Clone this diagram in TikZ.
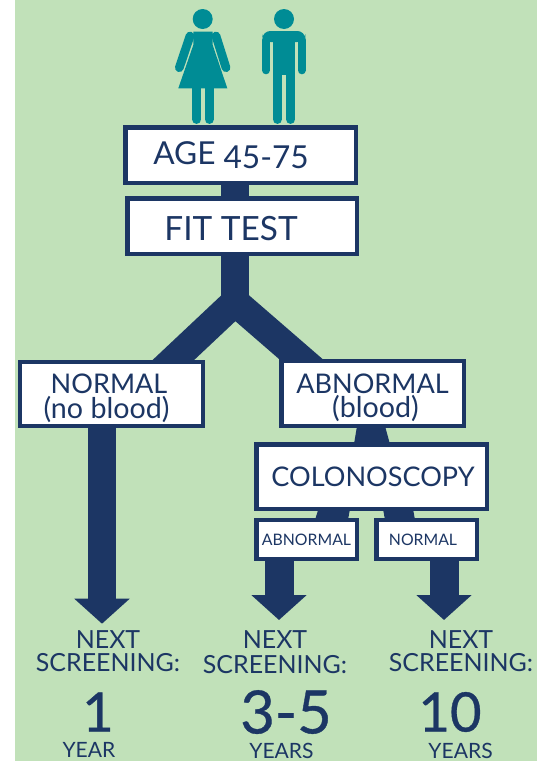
\documentclass[tikz,border=0pt]{standalone}
\usepackage{fontspec}
\setmainfont{Lato}
\newfontfamily\numberfont[FakeBold=0.6]{Lato}
\usetikzlibrary{arrows.meta,backgrounds,calc}
\definecolor{navy}{HTML}{1C3664}
\definecolor{meadow}{HTML}{C1E1B9}
\definecolor{person}{HTML}{008C95}
\newcommand{\fsize}[1]{\fontsize{#1}{#1}\selectfont}
\tikzset{
    boxnode/.style 2 args={draw=navy, fill=white, line width=0.09cm, text=navy, inner sep=0pt, outer sep=0pt,
        minimum width=#1*0.02cm, minimum height=#2*0.02cm, align=center},
    labelnode/.style={text=navy, inner sep=0pt, align=center},
    trunk/.style={draw=navy, line width=0.57cm, line join=miter},
    downarrow/.style={draw=navy, line width=0.58cm, -{Triangle[length=0.5cm,width=1.08cm]}},
    limb/.style={draw=person, line cap=round}
}
\begin{document}
\begin{tikzpicture}[x=0.02cm, y=-0.02cm]
    \useasboundingbox (0,0) rectangle (537,761);
    % ---- Woman ----
    \fill[person] (202.7,19) circle (10);
    \fill[person] (193.3,31.7) -- (212.7,31.7) -- (212.7,45) -- (227.3,88.3) -- (178.3,88.3) -- (193.3,45) -- cycle;
    \draw[limb, line width=0.175cm] (190,36) -- (179.3,67.7);
    \draw[limb, line width=0.175cm] (216,36) -- (226,67.7);
    \foreach \x in {196.7, 209.3} {
        \draw[limb, line width=0.186cm] (\x,85) -- (\x,119.3);
    }
    % ---- Man ----
    \fill[person] (284,19) circle (10);
    \fill[person, rounded corners=0.16cm] (262.3,42) -- (262.3,31) -- (305.3,31) -- (305.3,42) -- cycle;
    \fill[person] (272.7,36) rectangle (295.3,75);
    \foreach \x in {266, 301.7} {
        \draw[limb, line width=0.16cm] (\x,40) -- (\x,70.3);
    }
    \foreach \x in {277.3, 290.7} {
        \draw[limb, line width=0.186cm] (\x,72) -- (\x,119.3);
    }
    % ---- Boxes ----
    \node[boxnode={230.5}{55.5}, font=\fsize{18}] (age) at (240.5,155) {AGE \raisebox{-2pt}{45-75}\hspace{0.38cm}};
    \node[boxnode={229.5}{55.5}, font=\fsize{19}] (fit) at (242,226) {\rule{0pt}{16.3pt}FIT TEST\hspace{0.44cm}};
    \node[boxnode={182.5}{63.7}, font=\fontsize{15.4}{14}\selectfont] (normal) at (111.5,393.9)
        {\rule{0pt}{16pt}NORMAL\hspace*{0.1cm}\\{\fontsize{16.3}{14}\selectfont (no blood)\hspace*{0.2cm}}};
    \node[boxnode={182.5}{65}, font=\fontsize{15.4}{14}\selectfont] (abnormal) at (372.5,393.5)
        {\rule{0pt}{16pt}ABNORMAL\\{\fontsize{16.3}{14}\selectfont \hspace*{0.12cm}(blood)}};
    \node[boxnode={230.5}{64.5}, font=\fsize{15.4}] (colono) at (371.5,476.5) {\hspace*{0.06cm}COLONOSCOPY};
    \node[boxnode={100.5}{39}, font=\fsize{9}] (resultab) at (306.5,539.5) {ABNORMAL};
    \node[boxnode={100.5}{39}, font=\fsize{9}] (resultnorm) at (426.5,539.5) {NORMAL\hspace{0.14cm}};
    % ---- Connectors ----
    \coordinate (fork) at (235,302);
    \coordinate (footleft) at (150,382);
    \coordinate (footright) at (325,380);
    \coordinate (tipone) at (102,623.7);
    \coordinate (tiptwo) at (279,620);
    \coordinate (tipthree) at (444,620);
    \begin{scope}[on background layer]
        \fill[meadow] (15,0) rectangle (537,761);
        \draw[trunk] (age.south -| fork) -- (fit.north -| fork);
        \draw[trunk] (fit.south -| fork) -- (fork);
        \draw[trunk] (footleft) -- (fork) -- (footright);
        \fill[navy] ($(abnormal.south)+(-15.5,0)$) -- ($(abnormal.south)+(12.5,0)$)
            -- ($(colono.north)+(18.5,0)$) -- ($(colono.north)+(-17.5,0)$) -- cycle;
        \fill[navy] ($(colono.south)+(-53,0)$) -- ($(colono.south)+(-21.5,0)$)
            -- ($(resultab.north)+(41.5,0)$) -- ($(resultab.north)+(8.5,0)$) -- cycle;
        \fill[navy] ($(colono.south)+(11.5,0)$) -- ($(colono.south)+(41.5,0)$)
            -- ($(resultnorm.north)+(-11.5,0)$) -- ($(resultnorm.north)+(-41.5,0)$) -- cycle;
        \draw[downarrow] (normal.south -| tipone) -- (tipone);
        \draw[downarrow] (resultab.south -| tiptwo) -- (tiptwo);
        \draw[downarrow] (resultnorm.south -| tipthree) -- (tipthree);
    \end{scope}
    % ---- Outcomes ----
    \node[labelnode, font=\fontsize{14.2}{13.2}\selectfont] (nextone) at (108,651) {NEXT\\SCREENING:};
    \node[labelnode, font=\fontsize{14.2}{14.3}\selectfont] (nexttwo) at (275,652) {NEXT\\SCREENING:};
    \node[labelnode, font=\fontsize{14.2}{13.2}\selectfont] (nextthree) at (461,651) {NEXT\\SCREENING:};
    \node[labelnode, font=\numberfont\fsize{31}] (yearone) at (98,712) {1};
    \node[labelnode, font=\numberfont\fsize{34}] (yeartwo) at (286,712) {3-5};
    \node[labelnode, font=\numberfont\fsize{31}] (yearthree) at (450,712) {10};
    \node[labelnode, font=\fsize{12}] (unitone) at (89,749.5) {YEAR};
    \node[labelnode, font=\fsize{12}] (unittwo) at (281.5,751) {YEARS};
    \node[labelnode, font=\fsize{12}] (unitthree) at (460.6,751) {YEARS};
\end{tikzpicture}
\end{document}
